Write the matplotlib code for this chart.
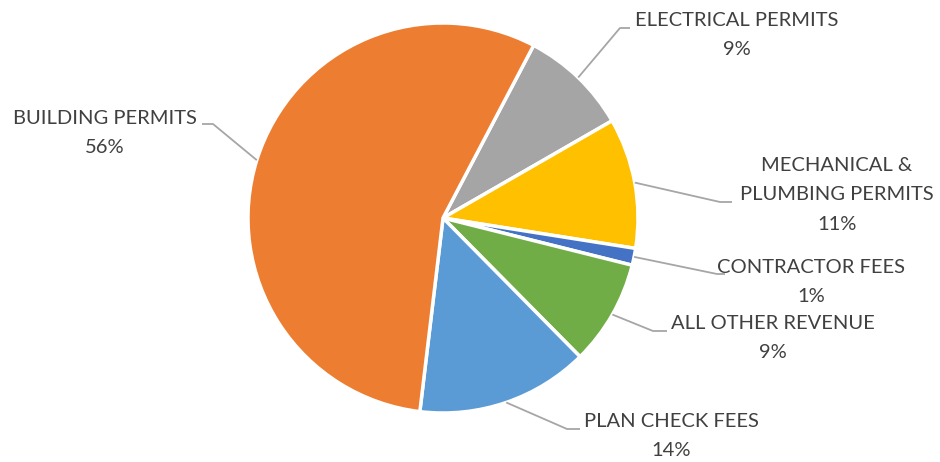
import matplotlib
matplotlib.use("Agg")
import matplotlib.pyplot as plt
import numpy as np

categories = ["ELECTRICAL PERMITS", "MECHANICAL &\nPLUMBING PERMITS", "CONTRACTOR FEES",
              "ALL OTHER REVENUE", "PLAN CHECK FEES", "BUILDING PERMITS"]
values = [9.0, 10.8, 1.4, 8.7, 14.3, 55.8]
colors = ["#A5A5A5", "#FFC000", "#4472C4", "#70AD47", "#5B9BD5", "#ED7D31"]

W, H = 940, 462
fig = plt.figure(figsize=(W / 100, H / 100), dpi=100)
ax = fig.add_axes([0, 0, 1, 1])

cx, cy, R = 443, H - 218, 195
start_deg = 90 - 27.7

wedges, _ = ax.pie(values, colors=colors, startangle=start_deg, counterclock=False,
                   radius=R, center=(cx, cy),
                   wedgeprops=dict(edgecolor="white", linewidth=2.5))
ax.set_xlim(0, W)
ax.set_ylim(0, H)
ax.set_aspect("equal")
ax.axis("off")

# label layout (pixel coords, y from top): elbow point, line end, text center
layout = [
    ((620, 28), (630, 28), (737, 35), "left"),
    ((720, 202), (732, 202), (837, 195), "left"),
    ((717, 274), (725, 274), (811, 282), "left"),
    ((653, 331), (667, 331), (773, 338), "left"),
    ((567, 429), (580, 429), (671, 436), "left"),
    ((213, 124), (202, 124), (105, 133), "right"),
]

total = sum(values)
txtcolor = "#404040"
for w, cat, v, (elb, end, tc, side) in zip(wedges, categories, values, layout):
    mid = np.deg2rad((w.theta1 + w.theta2) / 2)
    sx, sy = cx + R * np.cos(mid), cy + R * np.sin(mid)
    ax.plot([sx, elb[0], end[0]], [sy, H - elb[1], H - end[1]],
            color="#A6A6A6", lw=1.3, solid_capstyle="butt")
    ax.text(tc[0], H - tc[1], f"{cat}\n{v / total * 100:.0f}%", ha="center", va="center",
            fontsize=14.5, family="Lato", color=txtcolor, linespacing=1.9)

fig.savefig("out.png", dpi=100)
